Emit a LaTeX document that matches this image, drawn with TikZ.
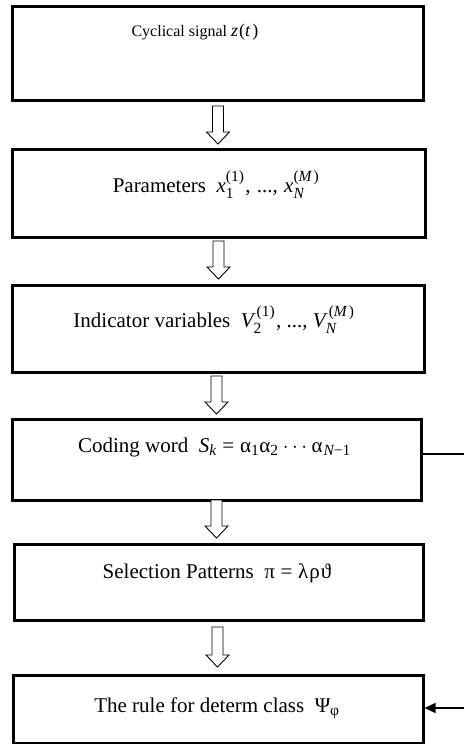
\documentclass[tikz,border=0pt]{standalone}
\usepackage{amsmath}
\usepackage{fontspec}
\setmainfont{Liberation Serif}
\DeclareMathSizes{21}{21}{15.5}{11}
\DeclareMathSizes{18}{18}{13}{9}
\usetikzlibrary{arrows.meta,calc}
\newcommand{\vi}[1]{\textit{#1}}
\newcommand{\vu}[1]{\text{#1}}
\newcommand{\blockarr}[3]{%
  \draw[blockarrow] (#1-5.5,#2) -- (#1+5.5,#2) -- (#1+5.5,#3-12) -- (#1+11.5,#3-12)
    -- (#1,#3) -- (#1-11.5,#3-12) -- (#1-5.5,#3-12) -- cycle;}
\begin{document}
\begin{tikzpicture}[x=1pt,y=-1pt,
  box/.style={draw=black, line width=3pt, fill=none, inner sep=0pt},
  lbl/.style={anchor=base, inner sep=0pt, font=\fontsize{21}{25}\selectfont},
  lblsmall/.style={anchor=base, inner sep=0pt, font=\fontsize{16}{19}\selectfont},
  blockarrow/.style={draw=black, line width=0.9pt, fill=white, line join=miter},
  feed/.style={draw=black, line width=1.1pt}]
\useasboundingbox (0,0) rectangle (464,744);
% boxes
\node[box, minimum width=411pt, minimum height=94pt] (b1) at (217.5,53) {};
\node[box, minimum width=413pt, minimum height=88pt] (b2) at (218.5,193) {};
\node[box, minimum width=412pt, minimum height=87pt] (b3) at (218,328.5) {};
\node[box, minimum width=409pt, minimum height=81pt] (b4) at (216.5,459.5) {};
\node[box, minimum width=409pt, minimum height=76pt] (b5) at (218.5,582) {};
\node[box, minimum width=410pt, minimum height=68pt] (b6) at (218,709) {};
% texts
\node[lblsmall] (t1) at (195,36) {Cyclical signal {\fontsize{18}{21}\selectfont\vi{z}\kern1pt(\vi{t}\kern2pt)}};
\node[lbl] (t2) at (216,192) {Parameters\ \ $\vi{x}^{\vu{(1)}}_{\vu{1}}$\kern1pt,\ \kern1pt...,\ \kern1pt$\vi{x}^{\vu{(}\vi{M}\kern2pt\vu{)}}_{\vi{N}}$};
\node[lbl] (t3) at (214,327) {Indicator variables\ \ $\vi{V}^{\kern3pt\vu{(1)}}_{\vu{2}}$\kern1pt, ..., $\vi{V}^{\kern3pt\vu{(}\vi{M}\kern2pt\vu{)}}_{\vi{N}}$};
\node[lbl] (t4) at (214.5,452) {Coding word\ \ $\vi{S}_{\vi{k}}\mathrel{\vu{=}}\vu{α}_{\vu{1}}\vu{α}_{\vu{2}}\kern1pt\cdots\kern1pt\vu{α}_{\kern1pt\vi{N}\vu{−1}}$};
\node[lbl] (t5) at (217,578) {Selection Patterns\ \ $\vu{π}\mathrel{\vu{=}}\vu{λ\kern1ptρ\kern1ptϑ}$};
\node[lbl] (t6) at (217,712) {The rule for determ class\ \ $\vu{Ψ}_{\vu{φ}}$};
% block arrows between boxes
\blockarr{218}{106}{144}
\blockarr{218.5}{241}{279}
\blockarr{216.5}{376}{414}
\blockarr{216.5}{500}{538}
\blockarr{217.5}{627}{667}
% feedback lines at the right
\coordinate (r1) at (464,454);
\coordinate (r2) at (464,708);
\draw[feed] (b4.east |- r1) -- (r1);
\draw[feed, -{Triangle[length=11pt,width=10pt]}] (r2) -- (b6.east |- r2);
\end{tikzpicture}
\end{document}
